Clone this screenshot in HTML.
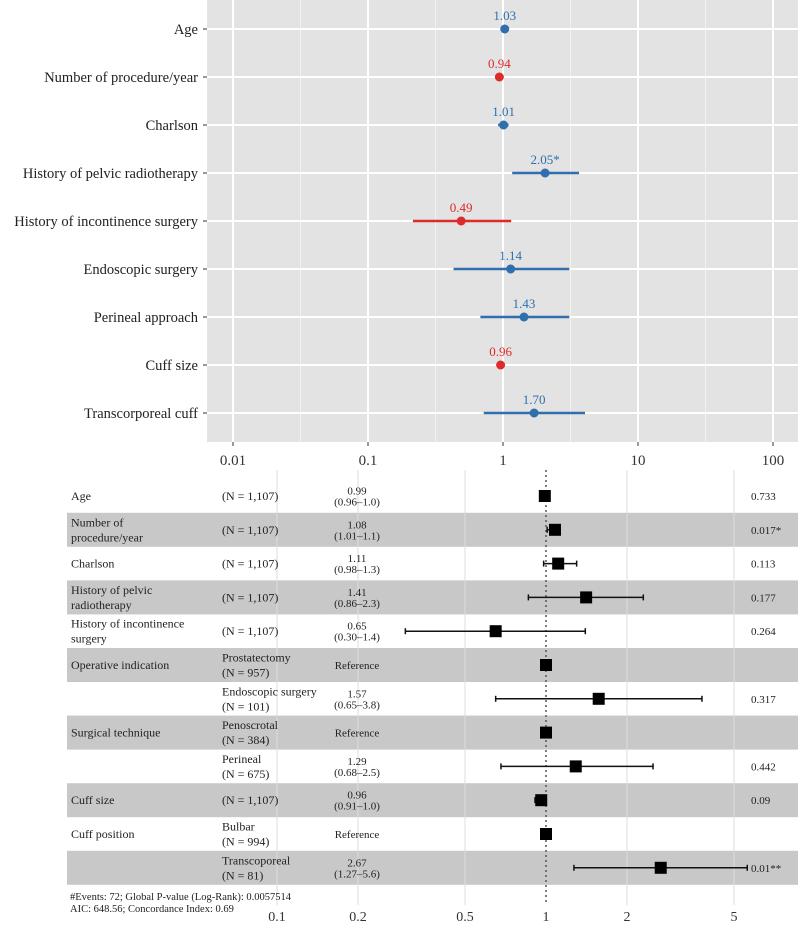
<!DOCTYPE html>
<html><head><meta charset="utf-8"><style>
body{margin:0;background:#fff;}
svg{display:block;font-family:"Liberation Serif",serif;}
</style></head><body>
<svg id="c" width="798" height="931"></svg>
<script>
const topLabels=["Age","Number of procedure/year","Charlson","History of pelvic radiotherapy","History of incontinence surgery","Endoscopic surgery","Perineal approach","Cuff size","Transcorporeal cuff"];
const topEst=[1.03,0.94,1.01,2.05,0.49,1.14,1.43,0.96,1.70];
const topLo=[1.03,0.94,0.92,1.17,0.215,0.43,0.68,0.96,0.72];
const topHi=[1.03,0.94,1.1,3.66,1.15,3.1,3.1,0.96,4.05];
const topText=["1.03","0.94","1.01","2.05*","0.49","1.14","1.43","0.96","1.70"];
const topTicks=[0.01,0.1,1,10,100];
const topTickLabels=["0.01","0.1","1","10","100"];

const botLabels=[["Age"],["Number of","procedure/year"],["Charlson"],["History of pelvic","radiotherapy"],["History of incontinence","surgery"],["Operative indication"],[""],["Surgical technique"],[""],["Cuff size"],["Cuff position"],[""]];
const botN=[["(N = 1,107)"],["(N = 1,107)"],["(N = 1,107)"],["(N = 1,107)"],["(N = 1,107)"],["Prostatectomy","(N = 957)"],["Endoscopic surgery","(N = 101)"],["Penoscrotal","(N = 384)"],["Perineal","(N = 675)"],["(N = 1,107)"],["Bulbar","(N = 994)"],["Transcoporeal","(N = 81)"]];
const botEstText=[["0.99","(0.96–1.0)"],["1.08","(1.01–1.1)"],["1.11","(0.98–1.3)"],["1.41","(0.86–2.3)"],["0.65","(0.30–1.4)"],["Reference"],["1.57","(0.65–3.8)"],["Reference"],["1.29","(0.68–2.5)"],["0.96","(0.91–1.0)"],["Reference"],["2.67","(1.27–5.6)"]];
const botEst=[0.99,1.08,1.11,1.41,0.65,1,1.57,1,1.29,0.96,1,2.67];
const botLo=[0.96,1.01,0.98,0.86,0.30,1,0.65,1,0.68,0.91,1,1.27];
const botHi=[1.0,1.1,1.3,2.3,1.4,1,3.8,1,2.5,1.0,1,5.6];
const botP=["0.733","0.017*","0.113","0.177","0.264","","0.317","","0.442","0.09","","0.01**"];
const botTicks=[0.1,0.2,0.5,1,2,5];
const botTickLabels=["0.1","0.2","0.5","1","2","5"];

const svg=document.getElementById('c');
const NS='http://www.w3.org/2000/svg';
function mk(t,a,txt){const e=document.createElementNS(NS,t);for(const k in a)e.setAttribute(k,a[k]);if(txt!==undefined)e.textContent=txt;svg.appendChild(e);return e;}
const xT=v=>503+135*Math.log10(v);
const yT=i=>29+48*i;
const xB=v=>546+269*Math.log10(v);
const yB=i=>496+33.8*i;

let p=mk('rect',{x:207,y:0,width:591,height:442,fill:'#e3e3e3'});


for(let k=0;k<topTicks.length;k++){
  const v=topTicks[k];
  if(k<topTicks.length-1){
    let m=mk('line',{x1:xT(v*Math.sqrt(10)),x2:xT(v*Math.sqrt(10)),y1:0,y2:442,stroke:'#f2f2f2','stroke-width':1});
    
    
  }
  let g=mk('line',{x1:xT(v),x2:xT(v),y1:0,y2:442,stroke:'#fff','stroke-width':2});
  
  
  let t=mk('text',{x:xT(v),y:465,'text-anchor':'middle','font-size':15,fill:'#333'},topTickLabels[k]);
  
  
  mk('line',{x1:xT(v),x2:xT(v),y1:442,y2:446,stroke:'#333'});
}
for(let i=0;i<topLabels.length;i++){
  const y=yT(i);
  let g=mk('line',{x1:207,x2:798,y1:y,y2:y,stroke:'#fff','stroke-width':2});
  
  
  mk('line',{x1:203,x2:207,y1:y,y2:y,stroke:'#333'});
  let l=mk('text',{x:198,y:y+5,'text-anchor':'end','font-size':14.5,fill:'#222'},topLabels[i]);
  
  
  const col=topEst[i]<1?'#dd2a2a':'#2f6fad';
  if(topHi[i]>topLo[i]){
    let e=mk('line',{x1:xT(topLo[i]),x2:xT(topHi[i]),y1:y,y2:y,stroke:col,'stroke-width':2.5});
    
    
  }
  let c=mk('circle',{cx:xT(topEst[i]),cy:y,r:4.5,fill:col});
  
  
  let lt=mk('text',{x:xT(topEst[i]),y:y-9,'text-anchor':'middle','font-size':13,fill:col},topText[i]);
  
  
}

for(let i=0;i<botLabels.length;i++){
  if(i%2===1){
    let b=mk('rect',{x:67,y:yB(i)-17,width:731,height:34,fill:'#c8c8c8'});
    
    
  }
}
for(let k=0;k<botTicks.length;k++){
  const v=botTicks[k];
  if(v!==1){
    let g=mk('line',{x1:xB(v),x2:xB(v),y1:470,y2:905,stroke:'#ddd','stroke-width':1});
    
    
  }
  let t=mk('text',{x:xB(v),y:921,'text-anchor':'middle','font-size':14,fill:'#333'},botTickLabels[k]);
  
  
}
let ref=mk('line',{x1:xB(1),x2:xB(1),y1:470,y2:905,stroke:'#555','stroke-width':1.5,'stroke-dasharray':'2,3'});


function lines(arr,x,y,anchor,name){
  const n=arr.length;
  for(let j=0;j<n;j++){
    let t=mk('text',{x:x,y:y+4+(j-(n-1)/2)*(anchor==='middle'?11:15),'text-anchor':anchor,'font-size':anchor==='middle'?11:12,fill:'#222'},arr[j]);
    
    
  }
}
for(let i=0;i<botLabels.length;i++){
  const y=yB(i);
  lines(botLabels[i],71,y,'start','variable-label');
  lines(botN[i],222,y,'start','n-label');
  lines(botEstText[i],357,y,'middle','hr-label');
  if(botP[i]){let t=mk('text',{x:751,y:y+4,'font-size':11,fill:'#222'},botP[i]);
    
    }
  if(botHi[i]>botLo[i]){
    const x1=xB(botLo[i]),x2=xB(botHi[i]);
    let e=mk('line',{x1:x1,x2:x2,y1:y,y2:y,stroke:'#111','stroke-width':1.5});
    
    
    mk('line',{x1:x1,x2:x1,y1:y-3,y2:y+3,stroke:'#111','stroke-width':1.5});
    mk('line',{x1:x2,x2:x2,y1:y-3,y2:y+3,stroke:'#111','stroke-width':1.5});
  }
  let s=mk('rect',{x:xB(botEst[i])-6,y:y-6,width:12,height:12,fill:'#000'});
  
  
}
let f1=mk('text',{x:70,y:900,'font-size':10.5,fill:'#222'},"#Events: 72; Global P-value (Log-Rank): 0.0057514");


let f2=mk('text',{x:70,y:912,'font-size':10.5,fill:'#222'},"AIC: 648.56; Concordance Index: 0.69");


</script>
</body></html>
